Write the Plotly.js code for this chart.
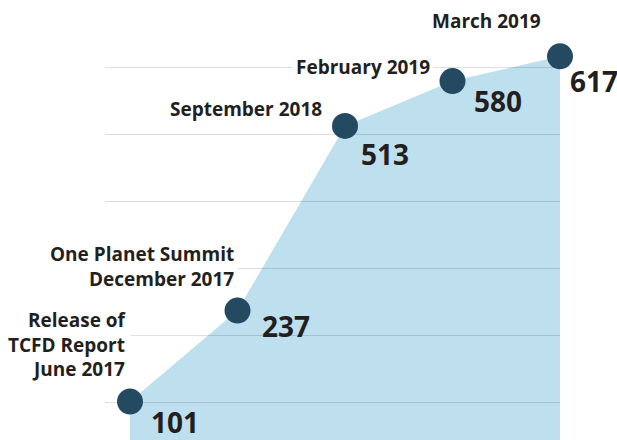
<!DOCTYPE html>
<html>
<head>
<meta charset="utf-8">
<script src="https://cdn.plot.ly/plotly-3.0.1.min.js"></script>
<style>html,body{margin:0;padding:0;background:#fff;}#chart{width:617px;height:440px;}</style>
</head>
<body>
<div id="chart"></div>
<script>
// ---- data ----
const milestones = [
  'Release of<br>TCFD Report<br>June 2017',
  'One Planet Summit<br>December 2017',
  'September 2018',
  'February 2019',
  'March 2019'
];
const supporters = [101, 237, 513, 580, 617];

// ---- layout helpers (label offsets in px) ----
const eventShift = [[1, 57], [0, 44], [-19, 17], [-19, 14], [-15, 35]];
const valueShift = [[19, -20], [22, -15], [14, -28], [19, -20], [8, -25]];

const xs = milestones.map((_, i) => i);
const yRange = [43.6, 701.2];
const xRange = [-0.2326, 4];
const textColor = '#231f20';
const fontFam = '"Open Sans", "Noto Sans", sans-serif';

const area = {
  x: xs, y: supporters, type: 'scatter', mode: 'lines',
  fill: 'tozeroy', fillcolor: '#bee0ee', line: {width: 0, color: '#bee0ee'},
  hoverinfo: 'skip', xaxis: 'x', yaxis: 'y'
};
const dots = {
  x: xs, y: supporters, type: 'scatter', mode: 'markers',
  marker: {size: 26, color: '#234a61'}, cliponaxis: false,
  xaxis: 'x2', yaxis: 'y2', hoverinfo: 'skip'
};

const annotations = [];
milestones.forEach((m, i) => {
  annotations.push({
    x: xs[i], y: supporters[i], xref: 'x2', yref: 'y2', text: m, showarrow: false,
    xanchor: 'right', yanchor: 'middle', align: 'right',
    xshift: eventShift[i][0], yshift: eventShift[i][1],
    bgcolor: '#ffffff', borderpad: 3,
    font: {family: fontFam, size: 19, color: textColor, weight: 700}
  });
  annotations.push({
    x: xs[i], y: supporters[i], xref: 'x2', yref: 'y2', text: String(supporters[i]), showarrow: false,
    xanchor: 'left', yanchor: 'middle',
    xshift: valueShift[i][0], yshift: valueShift[i][1],
    font: {family: fontFam, size: 28, color: textColor, weight: 700}
  });
});

const hiddenX = {range: xRange, visible: false, fixedrange: true};
const layout = {
  width: 617, height: 440,
  margin: {l: 105, r: 57, t: 0, b: 0, pad: 0},
  paper_bgcolor: '#ffffff', plot_bgcolor: 'rgba(0,0,0,0)',
  showlegend: false,
  xaxis: Object.assign({}, hiddenX),
  yaxis: {range: yRange, visible: false, fixedrange: true},
  xaxis2: Object.assign({anchor: 'y2'}, hiddenX),
  yaxis2: {
    anchor: 'x2', range: yRange, showgrid: true, gridcolor: 'rgba(0,0,0,0.13)', gridwidth: 1.5,
    tick0: 0, dtick: 100, showticklabels: false, ticks: '', showline: false, zeroline: false,
    fixedrange: true
  },
  annotations: annotations
};

Plotly.newPlot('chart', [area, dots], layout, {displayModeBar: false, staticPlot: true});
</script>
</body>
</html>
